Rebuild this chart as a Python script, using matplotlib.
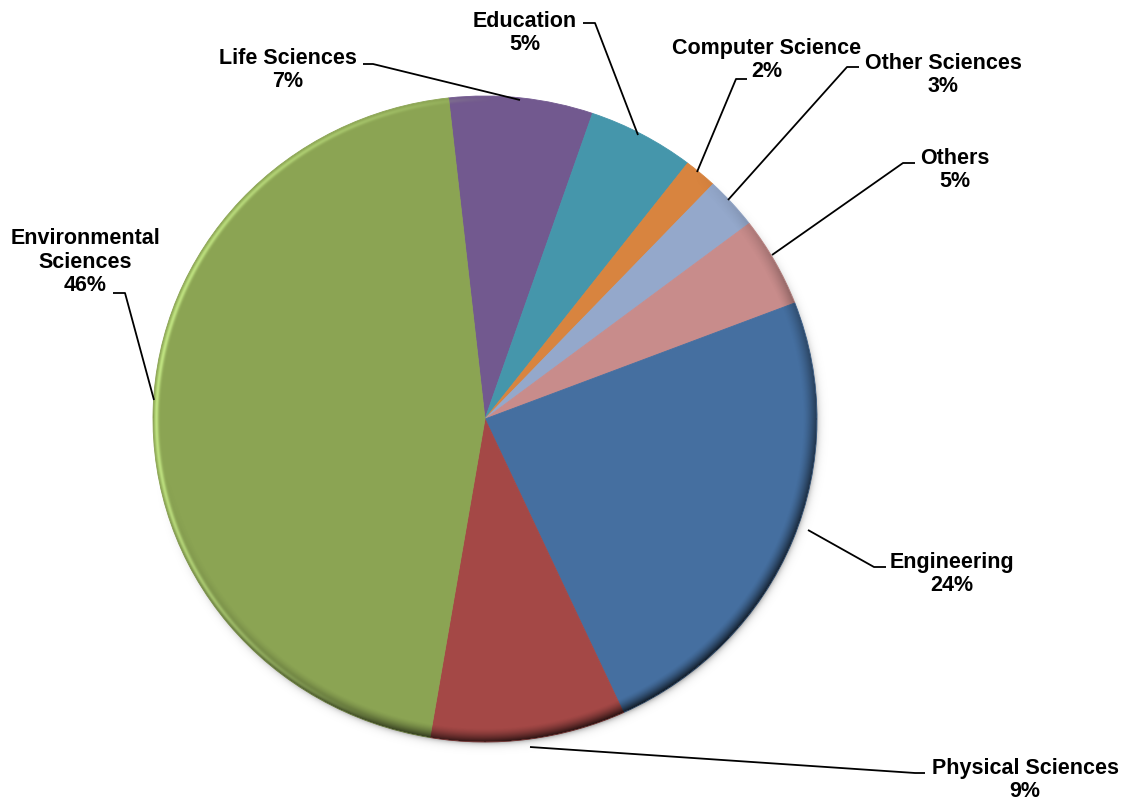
import numpy as np
import matplotlib.pyplot as plt
from matplotlib.transforms import Affine2D

# slices clockwise from the top (Life Sciences first)
categories = ['Life Sciences', 'Education', 'Computer Science', 'Other Sciences',
              'Others', 'Engineering', 'Physical Sciences', 'Environmental\nSciences']
shares = [7.0, 5.2, 1.6, 2.6, 4.5, 24.0, 9.5, 45.6]
pct_labels = ['7%', '5%', '2%', '3%', '5%', '24%', '9%', '46%']
colors = ['#72598F', '#4596AB', '#D8843F', '#94A8CB',
          '#C88C8B', '#456FA0', '#A44846', '#8BA453']

W, H = 1125, 801
fig = plt.figure(figsize=(W / 100, H / 100), dpi=100)
ax = fig.add_axes([0, 0, 1, 1])

cx, cy = 485, H - 419
rx, ry = 332, 323
k = ry / rx
wedges, _ = ax.pie(shares, colors=colors, startangle=96.3, counterclock=False,
                   center=(cx, cy), radius=rx, frame=False,
                   wedgeprops=dict(linewidth=0.6))
squash = Affine2D().translate(-cx, -cy).scale(1, k).translate(cx, cy)
for w in wedges:
    w.set_edgecolor(w.get_facecolor())
    w.set_transform(squash + ax.transData)

# bevel: light rim on the left, dark rim + soft shadow lower-right
pad = 25
xs = np.arange(cx - rx - pad, cx + rx + pad + 1)
ys = np.arange(cy - ry - pad, cy + ry + pad + 1)
X, Y = np.meshgrid(xs, ys)
d = rx * np.hypot((X - cx) / rx, (Y - cy) / ry)
th = np.arctan2((Y - cy) / ry, (X - cx) / rx)
inside = d <= rx
lit = np.clip((np.cos(th - np.deg2rad(170)) - 0.15) / 0.85, 0, 1)
shade = np.clip((np.cos(th - np.deg2rad(-60)) + 0.35) / 1.35, 0, 1)

hl = np.exp(-((d - (rx - 3)) / 2.2) ** 2) * lit * 0.8
hl[~inside] = 0
dk_in = np.clip((d - (rx - 14)) / 14, 0, 1) ** 1.5 * shade * 0.75
dk_out = np.exp(-(d - rx) / 3.0) * 0.45 * shade
dk = np.where(inside, dk_in, dk_out)
dk[d > rx + pad - 2] = 0

glow = np.zeros(X.shape + (4,))
glow[..., :3] = (0.80, 0.95, 0.55)
glow[..., 3] = hl
black = np.zeros(X.shape + (4,))
black[..., 3] = dk
ext = (xs[0], xs[-1], ys[0], ys[-1])
ax.imshow(black, extent=ext, origin='lower', interpolation='bilinear', zorder=3)
ax.imshow(glow, extent=ext, origin='lower', interpolation='bilinear', zorder=4)

# labels (pixel positions, y measured from the top)
font = dict(fontsize=15.5, fontweight='bold', family=['Liberation Sans', 'DejaVu Sans'],
            ha='center', va='center', linespacing=1.17, zorder=6)
label_pos = [(288, 70), (525, 33), (767, 60), (943, 75),
             (955, 170), (952, 574), (1025, 780), (85, 262)]
leaders = [
    [(363, 64), (373, 64), (520, 100)],
    [(583, 23), (595, 23), (638, 135)],
    [(747, 79), (736, 79), (697, 172)],
    [(859, 67), (847, 67), (728, 200)],
    [(915, 163), (903, 163), (772, 255)],
    [(886, 567), (874, 567), (808, 530)],
    [(925, 773), (915, 773), (530, 747)],
    [(113, 293), (125, 293), (154, 400)],
]
for cat, pct, (x, y), pts in zip(categories, pct_labels, label_pos, leaders):
    ax.text(x, H - y, cat + '\n' + pct, **font)
    px = [p[0] for p in pts]
    py = [H - p[1] for p in pts]
    ax.plot(px, py, color='black', lw=1.3, zorder=5, solid_capstyle='butt')

ax.set_xlim(0, W)
ax.set_ylim(0, H)
ax.set_axis_off()
fig.savefig('out.png', dpi=100)
